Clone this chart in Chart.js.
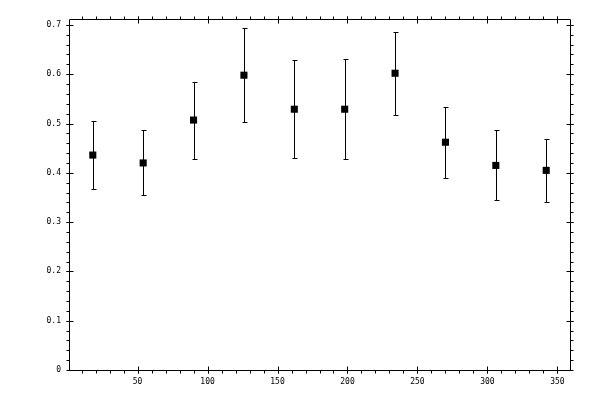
<!DOCTYPE html>
<html>
<head>
<meta charset="utf-8">
<script src="https://cdn.jsdelivr.net/npm/chart.js@4/dist/chart.umd.min.js"></script>
<style>
  html, body { margin: 0; padding: 0; background: #fff; }
  #myChart { display: block; }
</style>
</head>
<body>
<canvas id="myChart" width="600" height="400"></canvas>
<script>
// data
const xVals = [18, 54, 90, 126, 162, 198, 234, 270, 306, 342]
const yVals = [0.436, 0.420, 0.507, 0.598, 0.529, 0.529, 0.602, 0.462, 0.415, 0.405]
const yErr  = [0.069, 0.066, 0.078, 0.095, 0.099, 0.101, 0.084, 0.072, 0.071, 0.064]

const xTicks = [50, 100, 150, 200, 250, 300, 350]
const yTicks = [0, 0.1, 0.2, 0.3, 0.4, 0.5, 0.6, 0.7]
const xMinorStep = 10
const yMinorStep = 0.02

const xMin = 1, xMax = 359
const yMin = 0, yMax = 0.712

const points = xVals.map((x, i) => ({ x: x, y: yVals[i] }))

// error bars, drawn through the scales
const errorBars = {
    id: 'errorBars',
    afterDatasetsDraw(chart) {
        const ctx = chart.ctx
        const xs = chart.scales.x, ys = chart.scales.y
        ctx.save()
        ctx.strokeStyle = '#000'
        ctx.lineWidth = 1
        xVals.forEach((x, i) => {
            const px = Math.round(xs.getPixelForValue(x)) + 0.5
            const top = Math.round(ys.getPixelForValue(yVals[i] + yErr[i])) + 0.5
            const bot = Math.round(ys.getPixelForValue(yVals[i] - yErr[i])) + 0.5
            ctx.beginPath()
            ctx.moveTo(px, top); ctx.lineTo(px, bot)
            ctx.moveTo(px - 2, top); ctx.lineTo(px + 3, top)
            ctx.moveTo(px - 2, bot); ctx.lineTo(px + 3, bot)
            ctx.stroke()
        })
        ctx.restore()
    }
}

// frame with ticks on all four sides
const frame = {
    id: 'frame',
    afterDraw(chart) {
        const ctx = chart.ctx
        const a = chart.chartArea
        const xs = chart.scales.x, ys = chart.scales.y
        const L = Math.round(a.left) + 0.5, R = Math.round(a.right) + 0.5
        const T = Math.round(a.top) + 0.5, B = Math.round(a.bottom) + 0.5
        ctx.save()
        ctx.strokeStyle = '#000'
        ctx.lineWidth = 1
        ctx.beginPath()
        ctx.rect(L, T, R - L, B - T)

        const xMinor = [], yMinor = []
        for (let v = xMinorStep; v < xMax; v += xMinorStep) xMinor.push(v)
        for (let k = 1; k * yMinorStep < yMax; k++) yMinor.push(k * yMinorStep)

        xMinor.forEach(v => {
            const px = Math.round(xs.getPixelForValue(v)) + 0.5
            ctx.moveTo(px, B); ctx.lineTo(px, B + 3)
            ctx.moveTo(px, T); ctx.lineTo(px, T - 3)
        })
        xTicks.forEach(v => {
            const px = Math.round(xs.getPixelForValue(v)) + 0.5
            ctx.moveTo(px, B - 4); ctx.lineTo(px, B + 3)
            ctx.moveTo(px, T + 4); ctx.lineTo(px, T - 3)
        })
        yMinor.forEach(v => {
            const py = Math.round(ys.getPixelForValue(v)) + 0.5
            ctx.moveTo(L, py); ctx.lineTo(L - 3, py)
            ctx.moveTo(R, py); ctx.lineTo(R + 3, py)
        })
        yTicks.forEach(v => {
            const py = Math.round(ys.getPixelForValue(v)) + 0.5
            ctx.moveTo(L - 3, py); ctx.lineTo(L + 4, py)
            ctx.moveTo(R - 4, py); ctx.lineTo(R + 3, py)
        })
        ctx.stroke()
        ctx.restore()
    }
}

const tickFont = { family: 'DejaVu Sans Mono', size: 8 }

const ctx = document.getElementById('myChart').getContext('2d')
const myChart = new Chart(ctx, {
    type: 'scatter',
    data: {
        datasets: [{
            data: points,
            pointStyle: 'rect',
            pointRadius: 5,
            pointHoverRadius: 5,
            backgroundColor: '#000',
            borderColor: '#000',
            borderWidth: 0
        }]
    },
    options: {
        responsive: false,
        animation: false,
        events: [],
        layout: { padding: { top: 19, right: 30, left: 0, bottom: 0 } },
        plugins: { legend: { display: false }, tooltip: { enabled: false } },
        scales: {
            x: {
                type: 'linear',
                min: xMin, max: xMax,
                grid: { display: false, drawTicks: false },
                border: { display: false },
                afterBuildTicks: (scale) => { scale.ticks = xTicks.map(v => ({ value: v })) },
                afterFit: (scale) => { scale.height = 30 },
                ticks: {
                    color: '#000', font: tickFont, padding: 7,
                    maxRotation: 0, autoSkip: false,
                    callback: (v) => String(v)
                }
            },
            y: {
                min: yMin, max: yMax,
                grid: { display: false, drawTicks: false },
                border: { display: false },
                afterBuildTicks: (scale) => { scale.ticks = yTicks.map(v => ({ value: v })) },
                afterFit: (scale) => { scale.width = 69 },
                ticks: {
                    color: '#000', font: tickFont, padding: 8,
                    autoSkip: false,
                    callback: (v) => String(Math.round(v * 10) / 10)
                }
            }
        }
    },
    plugins: [errorBars, frame]
})
</script>
</body>
</html>
